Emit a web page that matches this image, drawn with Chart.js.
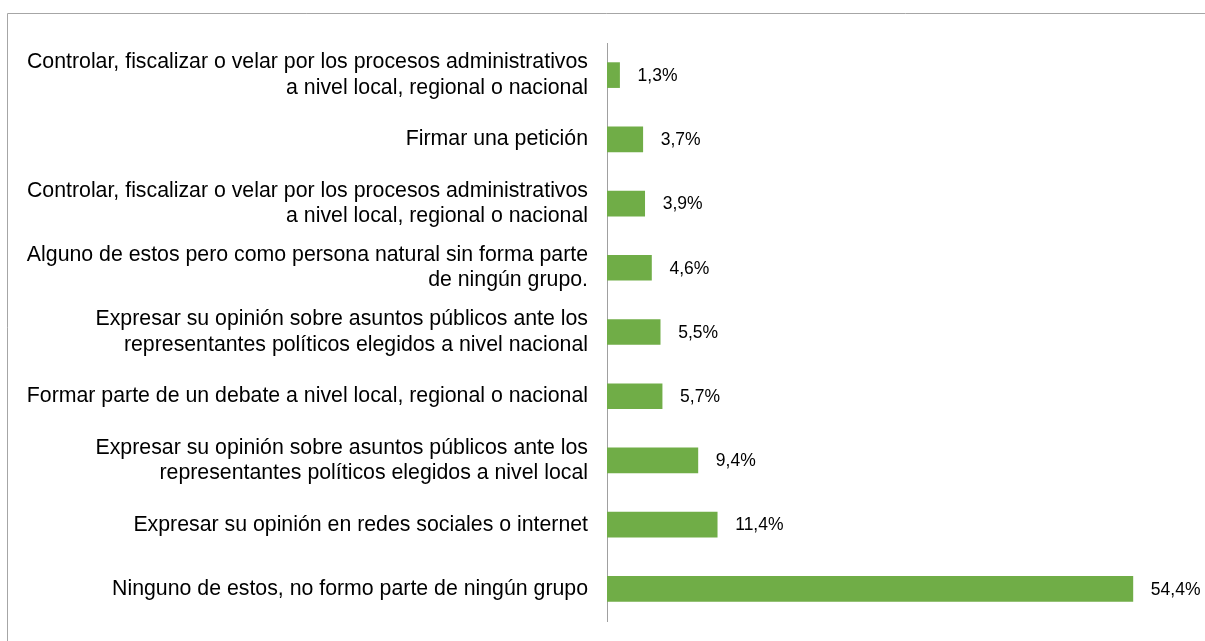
<!DOCTYPE html>
<html>
<head>
<meta charset="utf-8">
<script src="https://cdn.jsdelivr.net/npm/chart.js@4/dist/chart.umd.min.js"></script>
<style>
  html, body { margin: 0; padding: 0; background: #ffffff; }
  #wrap { width: 1205px; height: 641px; position: relative; }
</style>
</head>
<body>
<div id="wrap"><canvas id="c" width="1205" height="641"></canvas></div>
<script>
// Categories (top to bottom) and their percentages
const categories = [
  ["Controlar, fiscalizar o velar por los procesos administrativos", "a nivel local, regional o nacional"],
  "Firmar una petición",
  ["Controlar, fiscalizar o velar por los procesos administrativos", "a nivel local, regional o nacional"],
  ["Alguno de estos pero como persona natural sin forma parte", "de ningún grupo."],
  ["Expresar su opinión sobre asuntos públicos ante los", "representantes políticos elegidos a nivel nacional"],
  "Formar parte de un debate a nivel local, regional o nacional",
  ["Expresar su opinión sobre asuntos públicos ante los", "representantes políticos elegidos a nivel local"],
  "Expresar su opinión en redes sociales o internet",
  "Ninguno de estos, no formo parte de ningún grupo"
];
const values = [1.3, 3.7, 3.9, 4.6, 5.5, 5.7, 9.4, 11.4, 54.4];

const fmt = v => v.toFixed(1).replace('.', ',') + '%';

// Outer frame (top and left edges visible)
const framePlugin = {
  id: 'frame',
  beforeDraw(chart) {
    const ctx = chart.ctx;
    ctx.save();
    ctx.fillStyle = '#ffffff';
    ctx.fillRect(0, 0, chart.width, chart.height);
    ctx.strokeStyle = '#a6a6a6';
    ctx.lineWidth = 1;
    ctx.beginPath();
    ctx.moveTo(7.5, chart.height);
    ctx.lineTo(7.5, 13.5);
    ctx.lineTo(chart.width, 13.5);
    ctx.stroke();
    ctx.restore();
  }
};

// Value labels at the end of each bar
const valueLabels = {
  id: 'valueLabels',
  afterDatasetsDraw(chart) {
    const ctx = chart.ctx;
    const meta = chart.getDatasetMeta(0);
    ctx.save();
    ctx.font = '17.5px "Liberation Sans", Arial, sans-serif';
    ctx.fillStyle = '#000000';
    ctx.textAlign = 'left';
    ctx.textBaseline = 'middle';
    meta.data.forEach((bar, i) => {
      ctx.fillText(fmt(values[i]), bar.x + 18, bar.y + 1);
    });
    ctx.restore();
  }
};

new Chart(document.getElementById('c'), {
  type: 'bar',
  data: {
    labels: categories,
    datasets: [{
      data: values,
      backgroundColor: '#70ad47',
      borderWidth: 0,
      barThickness: 25
    }]
  },
  options: {
    indexAxis: 'y',
    responsive: false,
    animation: false,
    devicePixelRatio: 1,
    layout: { padding: { top: 43, bottom: 20, left: 0, right: 18 } },
    plugins: {
      legend: { display: false },
      tooltip: { enabled: false }
    },
    scales: {
      x: { display: false, min: 0, max: 60 },
      y: {
        grid: { display: false, drawTicks: false },
        border: { display: true, color: '#a0a0a0', width: 1 },
        ticks: {
          color: '#000000',
          padding: 19,
          font: { family: '"Liberation Sans", Arial, sans-serif', size: 21.3, lineHeight: 1.2 }
        },
        afterFit(scale) {
          scale.width = 607;
          scale.paddingTop = 0;
          scale.paddingBottom = 0;
        }
      }
    }
  },
  plugins: [framePlugin, valueLabels]
});
</script>
</body>
</html>
